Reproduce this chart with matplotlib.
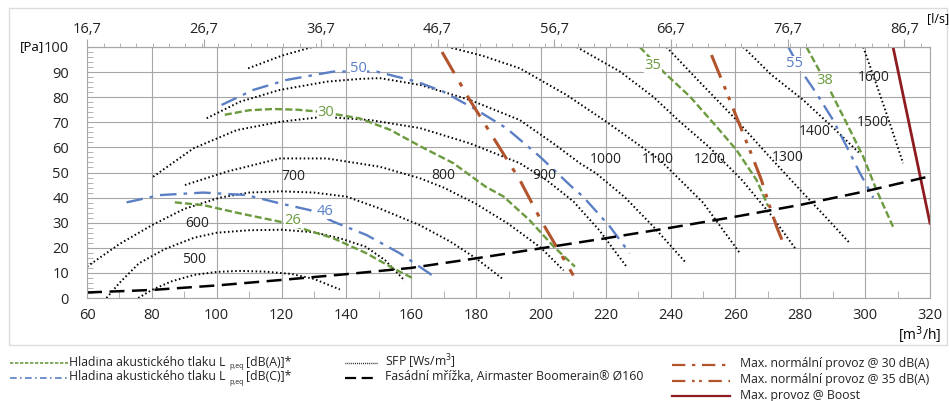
import numpy as np
import matplotlib.pyplot as plt
from matplotlib.lines import Line2D
from matplotlib.patches import Rectangle

plt.rcParams['font.family'] = ['Open Sans', 'DejaVu Sans']

# ---------------------------------------------------------------
# Daten, x = [m3/h], y = [Pa]
# SFP-Kurven (punktiert)
sfp_500_x = [75.8, 80, 86, 93, 100, 107, 115, 123, 130, 138]
sfp_500_y = [0, 3.2, 6.6, 9.2, 10.4, 10.8, 10.5, 9.6, 7.6, 3.4]
sfp_600_x = [66, 70, 76, 84, 93, 100, 110, 120, 130, 138, 146, 152, 158]
sfp_600_y = [0, 6, 13.8, 19.5, 24, 26, 27, 27.2, 26.2, 23.8, 20.4, 15, 6.9]
sfp_700_x = [60, 70, 80, 90, 101, 110, 120, 130, 140, 150, 162.7, 172, 180, 188]
sfp_700_y = [12.5, 21.5, 29, 35.5, 40, 42, 42.5, 42, 40.4, 35.8, 29, 22.5, 15.8, 7.8]
sfp_800_x = [90.2, 103, 119.5, 134, 150.3, 162.7, 170, 180, 190, 200, 207]
sfp_800_y = [45, 50.3, 55.6, 55.6, 52.3, 47.7, 44, 37.5, 29.5, 20, 11]
sfp_900_x = [80.4, 92.8, 106.2, 119.5, 132.9, 147.3, 162.7, 178.1, 193.5, 201.7, 210, 218, 226.4]
sfp_900_y = [48.3, 59.6, 66.9, 70.2, 72.2, 70.9, 67.7, 61.6, 53.7, 47, 38.5, 27, 12.5]
sfp_1000_x = [96.9, 107.2, 119.5, 134, 144.2, 150.3, 162.7, 178.1, 193.5, 203.8, 212, 217, 226, 235, 244.4]
sfp_1000_y = [71.6, 78.2, 82.9, 86.2, 87.3, 87.6, 84.9, 78.9, 70.9, 61.6, 53.7, 49.7, 40, 28, 14.5]
sfp_1100_x = [109.7, 120, 130, 140, 150, 160, 171.4, 182, 193.5, 207.9, 220.2, 236.7, 250, 261.4]
sfp_1100_y = [91.5, 96.5, 100.2, 102.5, 103.5, 102.5, 100, 96.5, 91.5, 80.9, 70.2, 55, 38, 17.8]
sfp_1200_x = [211, 224.4, 234.6, 242.9, 252, 262, 271, 278.8]
sfp_1200_y = [100, 90.2, 80.2, 70.2, 60, 47, 33, 19.1]
sfp_1300_x = [238.7, 249, 260.3, 270, 280, 288, 295.3]
sfp_1300_y = [100, 86, 70.9, 57, 43, 32, 21.8]
sfp_1400_x = [262.4, 271, 280.9, 290, 298]
sfp_1400_y = [100, 89, 78.9, 68, 58]
sfp_1500_x = [299.4, 303.5, 307.5, 311.7]
sfp_1500_y = [100, 85, 70, 53.7]

sfp_labels = ["500", "600", "700", "800", "900", "1000", "1100", "1200", "1300", "1400", "1500", "1600"]
sfp_label_x = [93, 94, 123.5, 170, 201, 220, 236, 252, 276, 284.5, 302.5, 302.5]
sfp_label_y = [12.5, 26.5, 45.5, 46, 46, 52, 52, 52, 53, 63.5, 67, 85]

# Schalldruck dB(A) (gruen gestrichelt)
la_26_x = [87.1, 95.9, 107.2, 119.5, 136, 146.2, 154.5, 160.6]
la_26_y = [38.1, 37, 33.7, 30.4, 23.8, 17.8, 11.8, 7.8]
la_30_x = [102.5, 110, 117.5, 125, 132, 144, 153.5, 163, 173, 183, 188.5, 196.5, 204, 210.5]
la_30_y = [73, 74.8, 75.3, 75, 74.2, 71.6, 67, 60.3, 53.7, 44.3, 40.4, 31, 20.4, 12.5]
la_35_x = [230.5, 237.7, 246, 254.2, 260.3, 266.5, 270.1]
la_35_y = [100, 90.2, 80.2, 68.2, 59, 47, 36.5]
la_38_x = [281.9, 289.1, 294.3, 299.4, 303.5, 308.6]
la_38_y = [100, 82.9, 69.6, 56.3, 43, 28.4]

# Schalldruck dB(C) (blau strich-punkt)
lc_46_x = [72.2, 82.5, 95.9, 109.2, 119.5, 128.8, 136, 146.2, 156.5, 166.3]
lc_46_y = [38.1, 41, 42, 41, 37.7, 35, 30.4, 25.1, 17.8, 9.2]
lc_50_x = [101.5, 111.3, 121.6, 136, 149.3, 161.7, 169.9, 180.2, 189.4, 199.7, 209.5, 213, 221.3, 227.4]
lc_50_y = [76.9, 82.9, 86.9, 90.2, 90.2, 86.2, 82.2, 74.9, 67.6, 56.3, 44.3, 40.4, 28.4, 17.8]
lc_55_x = [276.3, 280.4, 285, 290.1, 294.3, 298.4, 302.5]
lc_55_y = [100, 90.2, 81.5, 70.9, 60.3, 49.7, 40]

# Grenzen
max30_x = [169.5, 178, 193.5, 200, 205, 210]
max30_y = [98, 79, 47, 31, 20, 9]
max35_x = [252.6, 256.2, 260.3, 264.4, 268, 270.6, 272.7, 275.2]
max35_y = [96.8, 85.5, 72.2, 59, 47, 36.4, 28.4, 20.4]
boost_x = [308.6, 320]
boost_y = [100, 29.8]

# Fassadengitter Airmaster Boomerain
grille_x = [60, 80, 100, 120, 140, 160, 180, 200, 220, 240, 260, 280, 300, 320]
grille_y = [2.2, 3.2, 5, 7.2, 9.5, 12, 15.8, 19.8, 23.8, 28, 32.4, 37.1, 42.5, 48.5]

top_ticks = [16.7, 26.7, 36.7, 46.7, 56.7, 66.7, 76.7, 86.7]

GREEN = "#6b9a3f"
BLUE = "#5b7fc4"
BROWN = "#b2542c"
DARKRED = "#8e1b1f"
GRID = "#a6a6a6"

fig = plt.figure(figsize=(9.49, 4.01), dpi=100)
ax = fig.add_axes([87 / 949, 1 - 298 / 401, (930 - 87) / 949, (298 - 47) / 401])

# Rahmen
fig.patches.append(Rectangle((9 / 949, 1 - 345 / 401), 938 / 949, 337 / 401,
                             transform=fig.transFigure, fill=False,
                             edgecolor="#dcdcdc", lw=1.0, zorder=0))

sfp_style = dict(color="black", lw=1.4, linestyle=(0, (0.8, 1.3)))
for xs, ys in [(sfp_500_x, sfp_500_y), (sfp_600_x, sfp_600_y), (sfp_700_x, sfp_700_y),
               (sfp_800_x, sfp_800_y), (sfp_900_x, sfp_900_y), (sfp_1000_x, sfp_1000_y),
               (sfp_1100_x, sfp_1100_y), (sfp_1200_x, sfp_1200_y), (sfp_1300_x, sfp_1300_y),
               (sfp_1400_x, sfp_1400_y), (sfp_1500_x, sfp_1500_y)]:
    ax.plot(xs, ys, **sfp_style)

for lab, lx, ly in zip(sfp_labels, sfp_label_x, sfp_label_y):
    ax.text(lx, ly, lab, fontsize=10, ha="center", va="bottom", color="#222222")

la_style = dict(color=GREEN, lw=1.7, linestyle=(0, (3, 1.3)))
for xs, ys in [(la_26_x, la_26_y), (la_30_x, la_30_y), (la_35_x, la_35_y), (la_38_x, la_38_y)]:
    ax.plot(xs, ys, **la_style)

lc_style = dict(color=BLUE, lw=1.7, linestyle=(0, (7, 3, 1.5, 3)))
for xs, ys in [(lc_46_x, lc_46_y), (lc_50_x, lc_50_y), (lc_55_x, lc_55_y)]:
    ax.plot(xs, ys, **lc_style)

ax.plot(max30_x, max30_y, color=BROWN, lw=2.2, linestyle=(0, (8, 3.5, 1.5, 3.5)))
ax.plot(max35_x, max35_y, color=BROWN, lw=2.2, linestyle=(0, (8, 3, 1.2, 2.5, 1.2, 3)))
ax.plot(boost_x, boost_y, color=DARKRED, lw=2.0)
ax.plot(grille_x, grille_y, color="black", lw=1.8, linestyle=(0, (6, 3)))

# dB-Beschriftungen
for lab, lx, ly, col in [("26", 123.5, 31, GREEN), ("30", 133.5, 74, GREEN),
                         ("35", 234.6, 92.8, GREEN), ("38", 287.5, 86.5, GREEN),
                         ("46", 133.5, 34.5, BLUE), ("50", 143.7, 91.5, BLUE),
                         ("55", 278.3, 93.5, BLUE)]:
    ax.text(lx, ly, lab, color=col, fontsize=10.5, ha="center", va="center",
            bbox=dict(facecolor="white", edgecolor="none", pad=0.2))

ax.set_xlim(60, 320)
ax.set_ylim(0, 100)
ax.set_xticks(np.arange(60, 321, 20))
ax.set_xticks(np.arange(70, 320, 10), minor=True)
ax.set_yticks(np.arange(0, 101, 10))
ax.set_yticks(np.arange(0, 100, 2), minor=True)
ax.grid(True, which="major", color=GRID, lw=0.8)
ax.set_axisbelow(True)
for s in ax.spines.values():
    s.set_color(GRID)
    s.set_linewidth(0.8)
ax.tick_params(axis="both", which="major", labelsize=10.5, length=0, colors="#222222")
ax.tick_params(axis="y", which="major", pad=13)
ax.tick_params(axis="x", which="major", pad=7)
ax.tick_params(axis="x", which="minor", direction="in", length=5, color=GRID)
ax.tick_params(axis="y", which="minor", direction="in", length=4, color=GRID)

top = ax.secondary_xaxis("top", functions=(lambda q: q / 3.6, lambda l: l * 3.6))
top.set_xticks(top_ticks)
top.set_xticklabels([f"{t:.1f}".replace(".", ",") for t in top_ticks])
top.set_xticks(np.arange(18.1, 89, 1.4), minor=True)
top.tick_params(axis="x", which="major", length=6, color=GRID, labelsize=10.5, pad=1, colors="#222222")
top.tick_params(axis="x", which="minor", length=3, color=GRID)
top.spines["top"].set_color(GRID)

fig.text(20 / 949, 1 - 47 / 401, "[Pa]", fontsize=9.5, va="center", ha="left")
fig.text(938 / 949, 1 - 19 / 401, "[l/s]", fontsize=9, va="center", ha="center")
fig.text(920 / 949, 1 - 335 / 401, "[m$^3$/h]", fontsize=10, va="center", ha="center")

# Legende
def leg_line(x0, x1, y, **kw):
    fig.add_artist(Line2D([x0 / 949, x1 / 949], [1 - y / 401, 1 - y / 401],
                          transform=fig.transFigure, **kw))

def leg_text(x, y, s, size=8.8):
    fig.text(x / 949, 1 - y / 401, s, fontsize=size, va="center", ha="left", color="#222222")

leg_line(10, 68, 363, color=GREEN, lw=1.2, linestyle=(0, (2, 1)))
leg_text(69, 362, "Hladina akustického tlaku L")
leg_text(229, 367, "p,eq", size=5)
leg_text(246, 362, "[dB(A)]*")
leg_line(10, 68, 378, color=BLUE, lw=1.2, linestyle=(0, (4, 2, 1, 2)))
leg_text(69, 377, "Hladina akustického tlaku L")
leg_text(229, 382, "p,eq", size=5)
leg_text(246, 377, "[dB(C)]*")
leg_line(345, 378, 363, color="black", lw=1.0, linestyle=(0, (0.6, 0.8)))
leg_text(385, 362, "SFP [Ws/m$^{\\mathregular{3}}$]")
leg_line(345, 378, 378, color="black", lw=1.6, linestyle=(0, (5, 2.5)))
leg_text(385, 377, "Fasádní mřížka, Airmaster Boomerain® Ø160")
leg_line(672, 730, 365, color=BROWN, lw=1.6, linestyle=(0, (6, 3, 1.5, 3)))
leg_text(740, 364, "Max. normální provoz @ 30 dB(A)")
leg_line(672, 730, 381, color=BROWN, lw=1.6, linestyle=(0, (6, 3, 1.2, 2, 1.2, 3)))
leg_text(740, 380, "Max. normální provoz @ 35 dB(A)")
leg_line(672, 730, 396, color=DARKRED, lw=1.6)
leg_text(740, 396, "Max. provoz @ Boost")

fig.savefig("out.png", dpi=100)
